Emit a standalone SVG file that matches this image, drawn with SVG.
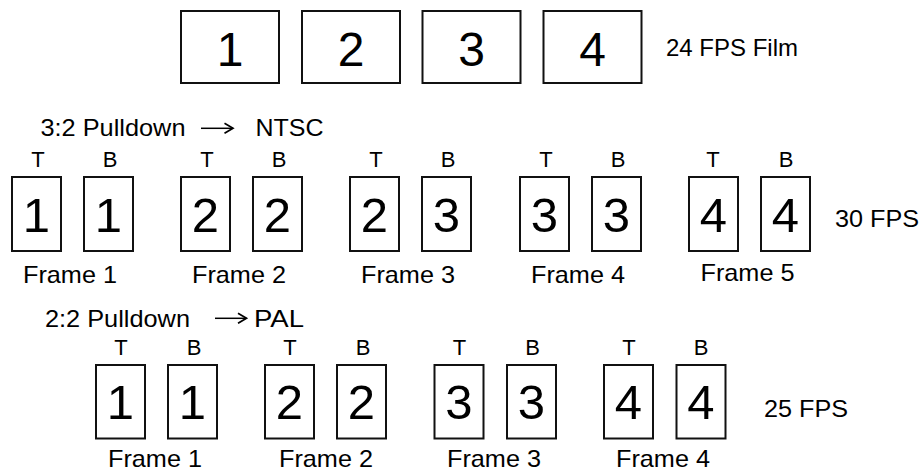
<svg xmlns="http://www.w3.org/2000/svg" width="920" height="473" viewBox="0 0 920 473">
  <style>
    text { font-family: "Liberation Sans", Arial, Helvetica, sans-serif; fill: #000; }
    .film { fill: #fff; stroke: #111; stroke-width: 2; }
    .field { fill: #fff; stroke: #111; stroke-width: 2; }
    .big { font-size: 48px; text-anchor: middle; }
    .digit { font-size: 49px; text-anchor: middle; }
    .tb { font-size: 22px; text-anchor: middle; }
    .frame { font-size: 24px; text-anchor: middle; }
    .head { font-size: 24px; }
    .rate { font-size: 24px; }
    .arrow { fill: none; stroke: #000; stroke-width: 1.5; }
  </style>
  <defs>
    <marker id="chevron" viewBox="0 0 12 12" refX="10" refY="6" markerWidth="12" markerHeight="12" markerUnits="userSpaceOnUse" orient="auto">
      <path d="M1.5,1 L10,6 L1.5,11" fill="none" stroke="#000" stroke-width="1.7" stroke-linejoin="miter"/>
    </marker>
  </defs>

  <!-- 24 fps source film -->
  <g id="film">
    <g id="film-1"><rect class="film" x="181" y="11" width="98" height="72"/><text class="big" x="230" y="65.5">1</text></g>
    <g id="film-2"><rect class="film" x="302" y="11" width="98" height="72"/><text class="big" x="351" y="65.5">2</text></g>
    <g id="film-3"><rect class="film" x="422.5" y="11" width="98" height="72"/><text class="big" x="471.5" y="65.5">3</text></g>
    <g id="film-4"><rect class="film" x="543.5" y="11" width="98" height="72"/><text class="big" x="592.5" y="65.5">4</text></g>
    <text id="film-rate" class="rate" x="666" y="56">24 FPS Film</text>
  </g>

  <!-- conversion arrows in the two headings -->
  <g id="connectors">
    <path class="arrow" d="M201,128.3 H233" marker-end="url(#chevron)"/>
    <path class="arrow" d="M215,318.3 H246.5" marker-end="url(#chevron)"/>
  </g>

  <!-- 3:2 pulldown to NTSC -->
  <g id="ntsc-title">
    <text class="head" x="40.5" y="136" textLength="145" lengthAdjust="spacingAndGlyphs">3:2 Pulldown</text>
    <text class="head" x="255.5" y="136" textLength="68" lengthAdjust="spacingAndGlyphs">NTSC</text>
  </g>

  <g id="ntsc-f1">
    <text class="tb" x="38" y="167.3">T</text><text class="tb" x="110" y="167.3">B</text>
    <g id="ntsc-f1-t"><rect class="field" x="12" y="177" width="49" height="74"/><text class="digit" x="36.5" y="231.7">1</text></g>
    <g id="ntsc-f1-b"><rect class="field" x="84" y="177" width="49" height="74"/><text class="digit" x="108.5" y="231.7">1</text></g>
    <text class="frame" x="70" y="282.7" textLength="94" lengthAdjust="spacingAndGlyphs">Frame 1</text>
  </g>
  <g id="ntsc-f2">
    <text class="tb" x="207" y="167.3">T</text><text class="tb" x="279" y="167.3">B</text>
    <g id="ntsc-f2-t"><rect class="field" x="181" y="177" width="49" height="74"/><text class="digit" x="205.5" y="231.7">2</text></g>
    <g id="ntsc-f2-b"><rect class="field" x="253" y="177" width="49" height="74"/><text class="digit" x="277.5" y="231.7">2</text></g>
    <text class="frame" x="239" y="282.7" textLength="94" lengthAdjust="spacingAndGlyphs">Frame 2</text>
  </g>
  <g id="ntsc-f3">
    <text class="tb" x="376" y="167.3">T</text><text class="tb" x="448" y="167.3">B</text>
    <g id="ntsc-f3-t"><rect class="field" x="350" y="177" width="49" height="74"/><text class="digit" x="374.5" y="231.7">2</text></g>
    <g id="ntsc-f3-b"><rect class="field" x="422" y="177" width="49" height="74"/><text class="digit" x="446.5" y="231.7">3</text></g>
    <text class="frame" x="408" y="282.7" textLength="94" lengthAdjust="spacingAndGlyphs">Frame 3</text>
  </g>
  <g id="ntsc-f4">
    <text class="tb" x="546" y="167.3">T</text><text class="tb" x="618" y="167.3">B</text>
    <g id="ntsc-f4-t"><rect class="field" x="520" y="177" width="49" height="74"/><text class="digit" x="544.5" y="231.7">3</text></g>
    <g id="ntsc-f4-b"><rect class="field" x="592" y="177" width="49" height="74"/><text class="digit" x="616.5" y="231.7">3</text></g>
    <text class="frame" x="578" y="282.7" textLength="94" lengthAdjust="spacingAndGlyphs">Frame 4</text>
  </g>
  <g id="ntsc-f5">
    <text class="tb" x="713" y="167.3">T</text><text class="tb" x="786" y="167.3">B</text>
    <g id="ntsc-f5-t"><rect class="field" x="689" y="177" width="49" height="74"/><text class="digit" x="713.5" y="231.7">4</text></g>
    <g id="ntsc-f5-b"><rect class="field" x="761" y="177" width="49" height="74"/><text class="digit" x="785.5" y="231.7">4</text></g>
    <text class="frame" x="747.5" y="280.7" textLength="94" lengthAdjust="spacingAndGlyphs">Frame 5</text>
  </g>
  <text id="ntsc-rate" class="rate" x="835" y="226.7" textLength="84" lengthAdjust="spacingAndGlyphs">30 FPS</text>

  <!-- 2:2 pulldown to PAL -->
  <g id="pal-title">
    <text class="head" x="45" y="326.7" textLength="145" lengthAdjust="spacingAndGlyphs">2:2 Pulldown</text>
    <text class="head" x="254" y="326.7" textLength="50" lengthAdjust="spacingAndGlyphs">PAL</text>
  </g>

  <g id="pal-f1">
    <text class="tb" x="121" y="355">T</text><text class="tb" x="194" y="355">B</text>
    <g id="pal-f1-t"><rect class="field" x="96" y="365" width="49" height="73.5"/><text class="digit" x="120.5" y="419">1</text></g>
    <g id="pal-f1-b"><rect class="field" x="168" y="365" width="49" height="73.5"/><text class="digit" x="192.5" y="419">1</text></g>
    <text class="frame" x="155" y="467" textLength="94" lengthAdjust="spacingAndGlyphs">Frame 1</text>
  </g>
  <g id="pal-f2">
    <text class="tb" x="290" y="355">T</text><text class="tb" x="363" y="355">B</text>
    <g id="pal-f2-t"><rect class="field" x="265" y="365" width="49" height="73.5"/><text class="digit" x="289.5" y="419">2</text></g>
    <g id="pal-f2-b"><rect class="field" x="337" y="365" width="49" height="73.5"/><text class="digit" x="361.5" y="419">2</text></g>
    <text class="frame" x="326" y="467" textLength="94" lengthAdjust="spacingAndGlyphs">Frame 2</text>
  </g>
  <g id="pal-f3">
    <text class="tb" x="459.5" y="355">T</text><text class="tb" x="532.5" y="355">B</text>
    <g id="pal-f3-t"><rect class="field" x="434.5" y="365" width="49" height="73.5"/><text class="digit" x="459" y="419">3</text></g>
    <g id="pal-f3-b"><rect class="field" x="507" y="365" width="49" height="73.5"/><text class="digit" x="531.5" y="419">3</text></g>
    <text class="frame" x="494" y="467" textLength="94" lengthAdjust="spacingAndGlyphs">Frame 3</text>
  </g>
  <g id="pal-f4">
    <text class="tb" x="629" y="355">T</text><text class="tb" x="701" y="355">B</text>
    <g id="pal-f4-t"><rect class="field" x="604" y="365" width="49" height="73.5"/><text class="digit" x="628.5" y="419">4</text></g>
    <g id="pal-f4-b"><rect class="field" x="676.5" y="365" width="49" height="73.5"/><text class="digit" x="701" y="419">4</text></g>
    <text class="frame" x="663" y="467" textLength="94" lengthAdjust="spacingAndGlyphs">Frame 4</text>
  </g>
  <text id="pal-rate" class="rate" x="764" y="417.3" textLength="84" lengthAdjust="spacingAndGlyphs">25 FPS</text>
</svg>
